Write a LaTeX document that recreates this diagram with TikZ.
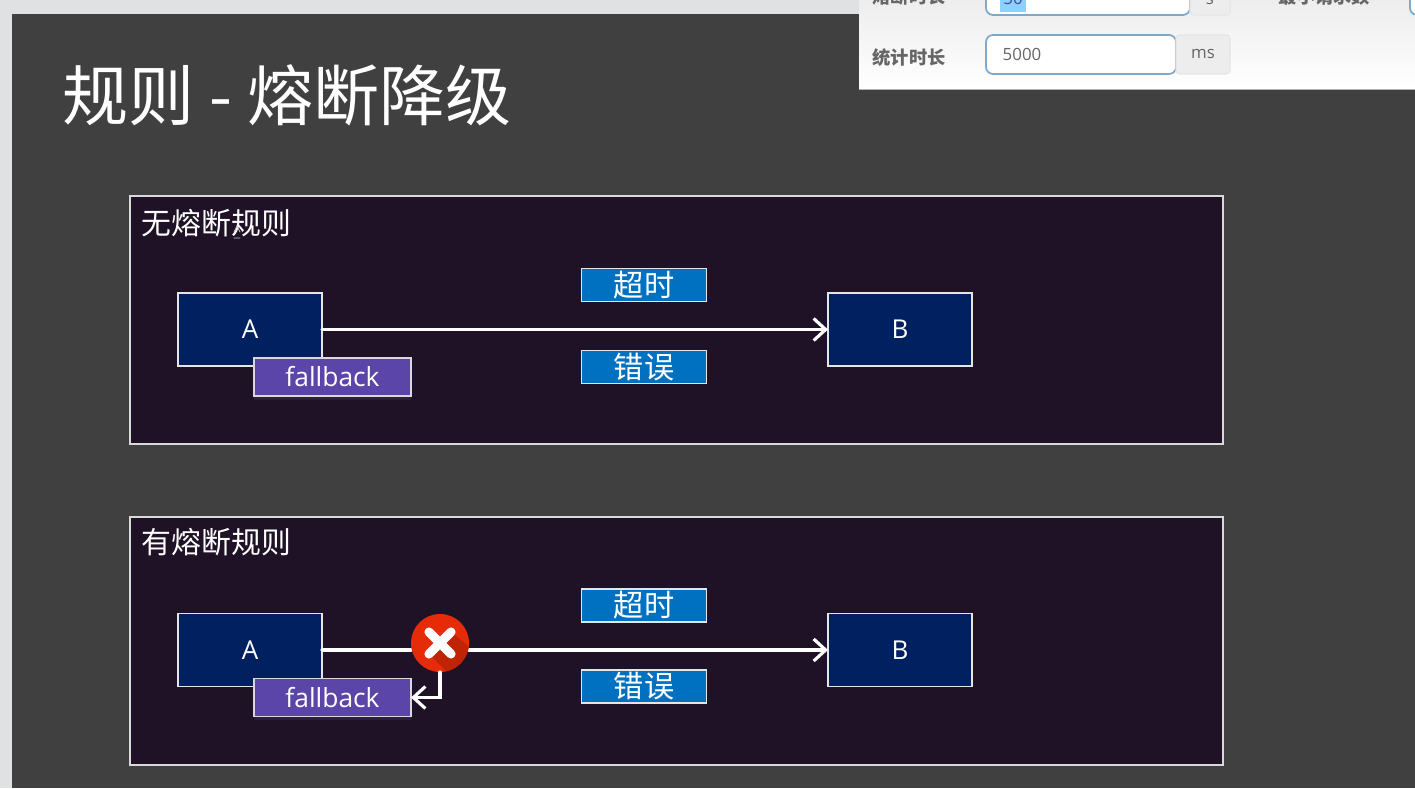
\documentclass[tikz,border=0pt]{standalone}
\usepackage{fontspec}
\setmainfont{Noto Sans CJK SC}
\newfontfamily\latinfont{Open Sans}
\usepackage{xcolor}
\usetikzlibrary{arrows.meta,shadows}
\definecolor{slidegray}{HTML}{404040}
\definecolor{framegray}{HTML}{DFE1E3}
\definecolor{paneldark}{HTML}{1F1227}
\definecolor{boxnavy}{HTML}{002060}
\definecolor{tagblue}{HTML}{0070C0}
\definecolor{fbpurple}{HTML}{5B45A8}
\definecolor{stopred}{HTML}{E62B08}
\definecolor{stopdark}{HTML}{BF2405}
\definecolor{inputblue}{HTML}{7FA8CC}
\definecolor{addongray}{HTML}{EDEDED}
\definecolor{labelgray}{HTML}{666666}
\tikzset{
  panel/.style={draw=white!85!black,fill=paneldark,line width=0.4pt,minimum width=10.93cm,minimum height=2.48cm,outer sep=0pt,inner sep=0pt},
  paneltitle/.style={text=white,font=\fontsize{8.5pt}{10pt}\selectfont,anchor=west,inner sep=0pt},
  hostbox/.style={draw=white!90!black,fill=boxnavy,text=white,line width=0.4pt,minimum width=1.44cm,minimum height=0.73cm,outer sep=0pt,font=\latinfont\fontsize{7.4pt}{9pt}\selectfont},
  tagbox/.style={draw=white!90!black,fill=tagblue,text=white,line width=0.4pt,minimum width=1.25cm,minimum height=0.33cm,inner sep=0pt,outer sep=0pt,font=\fontsize{8.6pt}{10pt}\selectfont},
  fbbox/.style={draw=white!85!black,fill=fbpurple,text=white,line width=0.4pt,minimum width=1.57cm,minimum height=0.38cm,inner sep=0pt,outer sep=0pt,font=\latinfont\fontsize{7.5pt}{9pt}\selectfont,
    drop shadow={shadow xshift=0pt,shadow yshift=-1pt,fill=fbpurple,opacity=0.22}},
  link/.style={draw=white,line width=0.9pt,-{Straight Barb[length=1.2mm,width=2.2mm,line width=0.9pt]}},
  formlabel/.style={text=labelgray,font=\bfseries\fontsize{5.2pt}{6pt}\selectfont,anchor=west,inner sep=0pt},
  forminput/.style={draw=inputblue,fill=white,line width=0.5pt,rounded corners=2pt,inner sep=0pt,outer sep=0pt},
  formaddon/.style={draw=black!10,fill=addongray,text=labelgray,line width=0.3pt,rounded corners=1pt,inner sep=0pt,outer sep=0pt,font=\latinfont\fontsize{4.8pt}{6pt}\selectfont},
}
\begin{document}
\begin{tikzpicture}[line cap=round]
\useasboundingbox (0,0) rectangle (14.15,7.88);
% slide background
\fill[framegray] (0,0) rectangle (14.15,7.88);
\fill[slidegray] (0.12,0) rectangle (14.15,7.74);
\node[text=white,anchor=west,inner sep=0pt,font=\fontsize{18.8pt}{20pt}\selectfont] (slidetitle) at (0.62,6.93) {规则 - 熔断降级};

% upper panel
\node[panel] (panelone) at (6.765,4.68) {};
\node[paneltitle] (titleone) at (1.41,5.65) {无熔断规则};
\draw[white!80!black,line width=0.25pt] (2.34,5.56) -- (2.37,5.62) -- (2.4,5.56) (2.34,5.5) -- (2.4,5.5);
\node[hostbox] (aone) at (2.5,4.585) {A};
\node[hostbox] (bone) at (9.0,4.585) {B};
\node[fbbox] (fbone) at (3.325,4.11) {fallback};
\node[tagbox] (timeone) at (6.44,5.03) {超时};
\node[tagbox] (errone) at (6.44,4.21) {错误};
\draw[link] (aone) -- (bone);

% lower panel
\node[panel] (paneltwo) at (6.765,1.47) {};
\node[paneltitle] (titletwo) at (1.41,2.46) {有熔断规则};
\node[hostbox] (atwo) at (2.5,1.38) {A};
\node[hostbox] (btwo) at (9.0,1.38) {B};
\node[fbbox] (fbtwo) at (3.325,0.905) {fallback};
\node[tagbox] (timetwo) at (6.44,1.825) {超时};
\node[tagbox] (errtwo) at (6.44,1.015) {错误};
\node[circle,minimum size=0.58cm,inner sep=0pt,outer sep=0pt] (stopmark) at (4.4,1.45) {};
\draw[white,line width=0.9pt] (atwo.east) -- (stopmark.west |- atwo.east);
\draw[link] (stopmark.east |- btwo.west) -- (btwo.west);
\fill[stopred] (stopmark) circle (0.29);
\begin{scope}
\clip (stopmark) circle (0.29);
\fill[stopdark] (4.29,1.34) -- (4.69,0.94) -- (4.95,1.2) -- (4.51,1.56) -- cycle;
\end{scope}
\draw[white,line width=2.6pt] (4.29,1.34) -- (4.51,1.56) (4.29,1.56) -- (4.51,1.34);
\draw[link] (stopmark.south) |- (fbtwo.east);

% browser form on top of the slide
\shade[top color=white!93!black,bottom color=white] (8.59,6.98) rectangle (14.15,7.88);
\begin{scope}
\clip (8.59,6.98) rectangle (14.15,7.88);
\draw[black!30,line width=0.4pt] (8.59,6.98) -- (14.15,6.98);
\node[formlabel] (labelbreak) at (8.72,7.91) {熔断时长};
\node[formlabel] (labelmin) at (12.78,7.91) {最小请求数};
\draw[forminput] (9.86,7.73) rectangle (11.9,8.2);
\fill[blue!40!cyan!45] (10.0,7.76) rectangle (10.26,8.0);
\node[text=labelgray!70!blue,inner sep=0pt,font=\latinfont\fontsize{4.8pt}{6pt}\selectfont] (valuebreak) at (10.13,7.9) {50};
\draw[formaddon] (11.9,7.73) rectangle (12.3,8.2);
\draw[forminput] (14.1,7.73) rectangle (14.6,8.2);
\node[formaddon,draw=none,fill=none] (unitbreak) at (12.1,7.88) {s};
\draw[forminput] (9.86,7.14) rectangle (11.76,7.53);
\draw[formaddon] (11.76,7.14) rectangle (12.3,7.53);
\node[formlabel] (labelstat) at (8.72,7.3) {统计时长};
\node[text=labelgray,anchor=west,inner sep=0pt,font=\latinfont\fontsize{4.8pt}{6pt}\selectfont] (valuestat) at (10.02,7.34) {5000};
\node[formaddon,draw=none,fill=none] (unitstat) at (12.03,7.34) {ms};
\end{scope}
\end{tikzpicture}
\end{document}
